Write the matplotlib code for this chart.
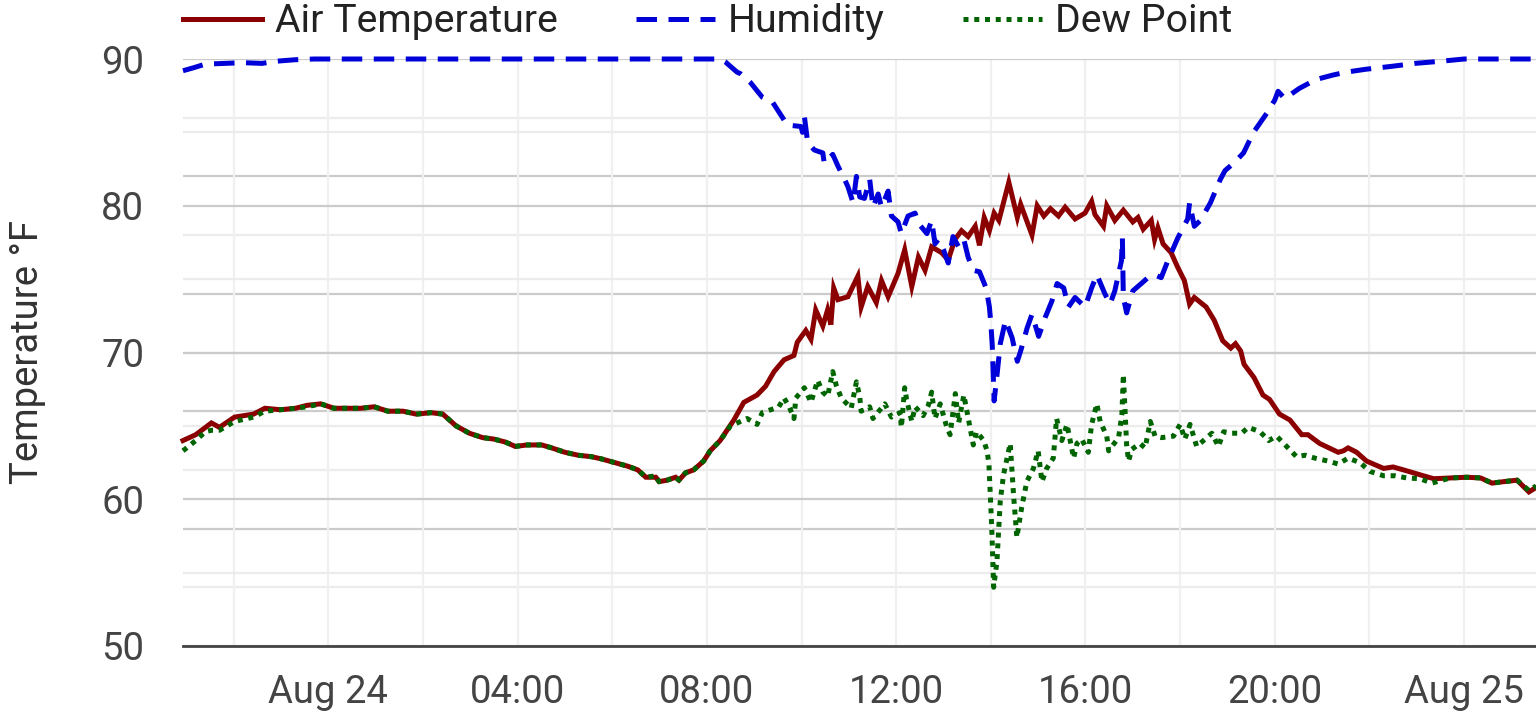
import matplotlib
matplotlib.use('Agg')
import matplotlib.pyplot as plt
import matplotlib.dates as mdates
import matplotlib.ticker as mticker
import pandas as pd

plt.rcParams['font.family'] = ['Roboto', 'DejaVu Sans']

base_day = '2019-08-24'

# ---- data: hours relative to midnight Aug 24, values in degF axis units ----
temp_hours = [-3.07, -2.8, -2.47, -2.3, -1.98, -1.58, -1.34, -1.01, -0.69, -0.45, -0.16, 0.12, 0.69, 0.97,
              1.26, 1.58, 1.86, 2.17, 2.42, 2.7, 2.98, 3.26, 3.5, 3.74, 3.95, 4.2, 4.51, 4.72, 5.0, 5.28,
              5.56, 5.77, 6.05, 6.33, 6.54, 6.71, 6.92, 6.99, 7.16, 7.34, 7.41, 7.55, 7.72, 7.93, 8.07,
              8.28, 8.57, 8.78, 9.06, 9.24, 9.42, 9.63, 9.84, 9.91, 10.09, 10.2, 10.3, 10.45, 10.55, 10.62,
              10.68, 10.77, 10.98, 11.19, 11.26, 11.4, 11.58, 11.69, 11.83, 12.04, 12.18, 12.33, 12.47,
              12.61, 12.75, 12.96, 13.1, 13.24, 13.38, 13.52, 13.67, 13.76, 13.86, 13.97, 14.07, 14.17,
              14.38, 14.56, 14.63, 14.87, 14.98, 15.12, 15.26, 15.43, 15.57, 15.78, 15.99, 16.13, 16.2,
              16.38, 16.45, 16.62, 16.8, 17.0, 17.11, 17.22, 17.39, 17.46, 17.53, 17.64, 17.81, 17.95,
              18.09, 18.2, 18.3, 18.55, 18.72, 18.9, 19.07, 19.17, 19.28, 19.35, 19.56, 19.75, 19.89,
              20.1, 20.32, 20.57, 20.7, 20.95, 21.34, 21.45, 21.55, 21.73, 21.94, 22.3, 22.5, 22.72,
              22.93, 23.14, 23.36, 23.71, 24.06, 24.35, 24.59, 24.84, 25.12, 25.37, 25.52]
temp_values = [64.0, 64.4, 65.2, 64.9, 65.6, 65.8, 66.2, 66.1, 66.2, 66.4, 66.5, 66.2, 66.2, 66.3,
               66.0, 66.0, 65.8, 65.9, 65.8, 65.0, 64.5, 64.2, 64.1, 63.9, 63.6, 63.7, 63.7, 63.5, 63.2, 63.0,
               62.9, 62.75, 62.5, 62.25, 62.0, 61.5, 61.5, 61.2, 61.3, 61.5, 61.3, 61.8, 62.0, 62.6, 63.3,
               64.0, 65.4, 66.6, 67.1, 67.7, 68.7, 69.5, 69.8, 70.7, 71.5, 70.9, 72.9, 71.8, 72.9, 71.9,
               74.4, 73.6, 73.8, 75.2, 73.1, 74.5, 73.4, 74.9, 73.8, 75.4, 77.0, 74.5, 76.5,
               75.6, 77.2, 76.8, 76.3, 77.7, 78.3, 77.9, 78.6, 77.3, 79.2, 78.3, 79.5, 79.0,
               81.6, 79.2, 80.1, 78.0, 80.0, 79.3, 79.8, 79.3, 79.9, 79.1, 79.5, 80.3, 79.4,
               78.6, 80.0, 79.0, 79.7, 78.9, 79.2, 78.4, 79.0, 77.7, 78.5, 77.4, 76.8, 75.8,
               74.9, 73.3, 73.75, 73.1, 72.2, 70.8, 70.3, 70.6, 70.1, 69.2, 68.3, 67.1, 66.8,
               65.8, 65.4, 64.4, 64.4, 63.8, 63.2, 63.3, 63.5, 63.2, 62.6, 62.1, 62.2, 62.0,
               61.8, 61.6, 61.4, 61.45, 61.5, 61.45, 61.1, 61.2, 61.3, 60.5, 60.8]

dew_hours = [-3.07, -2.8, -2.6, -2.47, -2.3, -1.98, -1.58, -1.34, -1.01, -0.69, -0.45, -0.16, 0.12, 0.69,
             0.97, 1.26, 1.58, 1.86, 2.17, 2.42, 2.7, 2.98, 3.26, 3.5, 3.74, 3.95, 4.2, 4.51, 4.72, 5.0,
             5.28, 5.56, 5.77, 6.05, 6.33, 6.54, 6.71, 6.92, 6.99, 7.16, 7.34, 7.41, 7.55, 7.72, 7.93,
             8.07, 8.28, 8.5, 8.64, 8.85, 9.06, 9.17, 9.35, 9.52, 9.63, 9.74, 9.84, 9.88, 10.06, 10.2,
             10.34, 10.45, 10.55, 10.66, 10.73, 10.84, 11.05, 11.16, 11.23, 11.26, 11.44, 11.51, 11.76,
             11.9, 12.08, 12.11, 12.18, 12.22, 12.33, 12.4, 12.57, 12.68, 12.75, 12.82, 12.93, 13.07,
             13.14, 13.21, 13.25, 13.32, 13.43, 13.5, 13.56, 13.63, 13.7, 13.85, 13.92, 13.96, 14.02,
             14.06, 14.13, 14.2, 14.27, 14.41, 14.48, 14.55, 14.65, 14.76, 14.9, 15.0, 15.08, 15.18,
             15.32, 15.39, 15.5, 15.61, 15.75, 15.82, 15.92, 16.06, 16.13, 16.24, 16.31, 16.45, 16.49,
             16.7, 16.77, 16.8, 16.87, 16.91, 16.98, 17.15, 17.26, 17.37, 17.47, 17.61, 17.86, 18.0,
             18.1, 18.21, 18.35, 18.53, 18.67, 18.81, 18.92, 19.09, 19.3, 19.44, 19.69, 19.87, 20.04,
             20.25, 20.46, 20.64, 20.85, 21.13, 21.34, 21.55, 21.8, 22.01, 22.3, 22.54, 22.79, 23.07,
             23.32, 23.71, 24.06, 24.35, 24.59, 24.84, 25.12, 25.37, 25.52]
dew_values = [63.3, 64.0, 64.6, 64.7, 64.7, 65.3, 65.6, 66.0, 66.1, 66.2, 66.3, 66.5, 66.2, 66.2,
              66.3, 66.0, 66.0, 65.8, 65.9, 65.8, 65.0, 64.5, 64.2, 64.1, 63.9, 63.6, 63.7, 63.7, 63.5, 63.2,
              63.0, 62.9, 62.75, 62.5, 62.25, 62.0, 61.5, 61.6, 61.2, 61.3, 61.5, 61.3, 61.8, 62.0, 62.6,
              63.3, 64.0, 65.0, 65.2, 65.5, 65.1, 65.9, 66.1, 66.3, 66.9, 66.3, 65.5, 66.9, 67.6, 66.6,
              68.1, 67.3, 67.0, 68.7, 67.8, 66.9, 66.2, 68.0, 67.0, 66.0, 66.3, 65.5, 66.5,
              65.6, 65.9, 64.9, 67.6, 66.8, 65.3, 66.3, 65.7, 66.4, 67.3, 65.5, 66.5, 64.9,
              64.4, 66.2, 67.2, 65.2, 67.1, 65.9, 64.9, 63.7, 64.6, 64.0, 63.3, 62.4, 58.0,
              54.0, 55.8, 59.9, 61.7, 63.8, 60.3, 57.4, 59.4, 61.2, 62.1, 63.3, 61.2, 62.1,
              62.8, 65.5, 64.0, 65.1, 62.8, 63.8, 64.1, 63.2, 65.1, 66.5, 65.3, 64.3, 63.3,
              64.2, 65.8, 68.5, 63.7, 62.6, 63.4, 63.8, 63.5, 65.3, 64.3, 64.2, 64.3, 65.1,
              64.1, 65.1, 63.6, 64.1, 64.5, 63.6, 64.6, 64.5, 64.5, 64.9, 64.6, 64.0, 64.3,
              63.6, 62.9, 63.0, 62.8, 62.6, 62.4, 62.8, 62.5, 61.9, 61.6, 61.6, 61.45, 61.4,
              61.1, 61.45, 61.5, 61.45, 61.1, 61.2, 61.3, 60.6, 60.9]

hum_hours = [-3.07, -2.85, -2.6, -2.2, -1.8, -1.4, -1.1, -0.7, -0.3, 2.0, 5.0, 8.28, 8.39, 8.64, 8.71,
             8.92, 9.17, 9.38, 9.52, 9.7, 9.99, 10.02, 10.06, 10.13, 10.27, 10.45, 10.48, 10.66, 10.77,
             10.91, 10.98, 11.09, 11.16, 11.23, 11.33, 11.44, 11.51, 11.62, 11.69, 11.83, 11.9, 12.04,
             12.11, 12.25, 12.4, 12.47, 12.65, 12.75, 12.82, 12.89, 13.0, 13.1, 13.2, 13.32, 13.43,
             13.52, 13.63, 13.76, 13.9, 13.97, 14.0, 14.03, 14.07, 14.14, 14.2, 14.31, 14.45, 14.56,
             14.63, 14.77, 14.87, 15.01, 15.15, 15.29, 15.4, 15.54, 15.64, 15.78, 15.99, 16.13, 16.24,
             16.41, 16.52, 16.62, 16.76, 16.78, 16.8, 16.87, 17.0, 17.18, 17.32, 17.46, 17.6, 17.74,
             17.95, 18.16, 18.2, 18.3, 18.43, 18.64, 18.85, 18.95, 19.13, 19.34, 19.55, 19.83, 20.0,
             20.07, 20.21, 20.52, 20.87, 21.22, 21.5, 21.92, 22.47, 22.96, 23.52, 24.0, 25.52]
hum_values = [89.2, 89.4, 89.65, 89.7, 89.75, 89.7, 89.85, 89.95, 90.0, 90.0, 90.0, 90.0, 89.8, 89.1, 89.0,
              88.4, 87.4, 87.1, 86.4, 85.5, 85.4, 85.0, 86.1, 84.3, 83.8, 83.6, 82.9, 83.5, 82.7,
              81.8, 81.3, 80.2, 82.0, 80.6, 80.5, 81.8, 79.9, 80.8, 79.9, 81.0, 79.3, 78.9,
              78.1, 79.3, 79.5, 78.8, 78.1, 79.0, 77.4, 77.7, 77.0, 76.1, 77.9, 77.2, 77.7,
              76.5, 75.6, 75.5, 74.4, 73.1, 72.0, 70.5, 66.7, 68.75, 70.6, 72.2, 71.0, 69.4,
              70.1, 71.7, 72.6, 71.1, 72.4, 73.5, 74.7, 74.4, 73.1, 73.75, 73.1, 74.4, 75.3,
              74.0, 73.3, 74.2, 76.25, 77.8, 73.75, 72.7, 74.2, 74.7, 75.1, 75.3, 75.1, 76.25,
              77.8, 79.1, 80.2, 78.6, 79.0, 80.2, 81.8, 82.4, 82.9, 83.6, 85.0, 86.3, 87.2,
              87.8, 87.3, 88.0, 88.6, 88.9, 89.1, 89.3, 89.5, 89.7, 89.85, 90.0, 90.0]

series_names = ['Air Temperature', 'Humidity', 'Dew Point']
y_major = [50, 60, 70, 80, 90]
y_minor = [55, 65, 75, 85]
hum_major = [58, 66, 74, 82]
hum_minor = [54, 62, 70, 78, 86]
y_label = 'Temperature °F'


def to_times(hours):
    return pd.Timestamp(base_day) + pd.to_timedelta(hours, unit='h')


t_temp = to_times(temp_hours)
t_dew = to_times(dew_hours)
t_hum = to_times(hum_hours)

W, H = 1536, 721
fig = plt.figure(figsize=(W / 100, H / 100), dpi=100)
ax = fig.add_axes([183 / W, (H - 646) / H, (W - 183) / W, (646 - 59) / H])
ax2 = ax.twinx()
ax.set_zorder(ax2.get_zorder() + 1)
ax.patch.set_visible(False)

major_c = '#cbcbcb'
minor_c = '#ececec'
glw = 1.6

# hidden humidity axis grid
ax2.set_ylim(50, 90)
ax2.set_yticks(hum_major)
ax2.set_yticks(hum_minor, minor=True)
ax2.yaxis.grid(True, which='major', color=major_c, lw=glw)
ax2.yaxis.grid(True, which='minor', color=minor_c, lw=glw)
ax2.tick_params(axis='y', which='both', length=0, labelright=False)
for s in ax2.spines.values():
    s.set_visible(False)

ax.set_ylim(50, 90)
ax.set_yticks(y_major)
ax.set_yticks(y_minor, minor=True)
ax.yaxis.grid(True, which='major', color=major_c, lw=glw)
ax.yaxis.grid(True, which='minor', color=minor_c, lw=glw)

ax.xaxis.set_major_locator(mdates.HourLocator(byhour=range(0, 24, 4)))
ax.xaxis.set_minor_locator(mdates.HourLocator(byhour=range(2, 24, 4)))


def fmt(x, pos=None):
    d = mdates.num2date(x)
    if d.hour == 0:
        return d.strftime('%b %d')
    return d.strftime('%H:%M')


ax.xaxis.set_major_formatter(mticker.FuncFormatter(fmt))
ax.xaxis.grid(True, which='both', color='#f0f0f0', lw=glw)
ax2.xaxis.grid(True, which='both', color='#f0f0f0', lw=glw)
ax.set_axisbelow(True)
ax.set_xlim(t_temp[0], t_temp[-1])

lw = 3.6
l1, = ax.plot(t_temp, temp_values, color='#8b0000', lw=lw, clip_on=False,
              solid_joinstyle='miter', label=series_names[0], zorder=3)
l2, = ax.plot(t_hum, hum_values, color='#0000d8', lw=lw, dashes=(4.1, 2.3), clip_on=False,
              label=series_names[1], zorder=4)
l3, = ax.plot(t_dew, dew_values, color='#006400', lw=lw, dashes=(1.0, 1.15), clip_on=False,
              label=series_names[2], zorder=5)

for side in ['top', 'right', 'left']:
    ax.spines[side].set_visible(False)
ax.spines['bottom'].set_color('#444444')
ax.spines['bottom'].set_linewidth(2.0)
ax.spines['bottom'].set_zorder(6)

ax.tick_params(axis='both', which='both', length=0, labelsize=27.5, labelcolor='#444444')
ax.tick_params(axis='y', pad=28)
ax.tick_params(axis='x', pad=20)

ax.set_ylabel(y_label, fontsize=27.5, color='#333333', va='center')
ax.yaxis.set_label_coords((28 - 183) / (W - 183), 0.5)

leg = fig.legend(handles=[l1, l2, l3], loc='center left', bbox_to_anchor=(183 / W, 1 - 22 / H),
                 ncol=3, frameon=False, fontsize=28.3, handlelength=2.0, handletextpad=0.33,
                 columnspacing=2.0, borderpad=0, borderaxespad=0)
for t in leg.get_texts():
    t.set_color('#222222')

fig.savefig('out.png', dpi=100)
